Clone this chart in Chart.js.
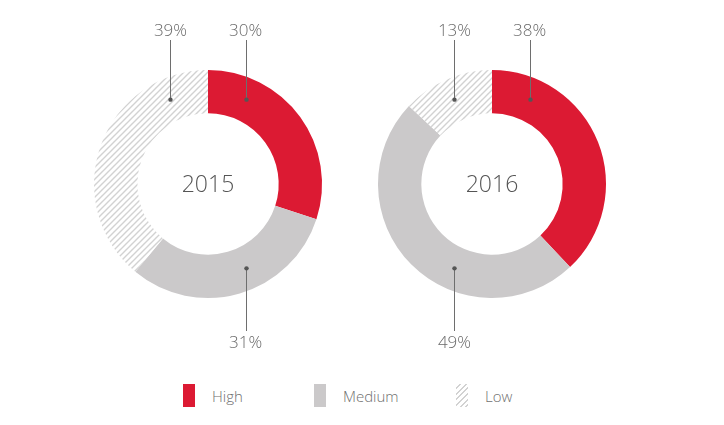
<!DOCTYPE html>
<html>
<head>
<meta charset="utf-8">
<script src="https://cdn.jsdelivr.net/npm/chart.js@4.4.1/dist/chart.umd.min.js"></script>
<style>
  body { margin:0; background:#fff; width:724px; height:425px; overflow:hidden; position:relative; font-family:"Open Sans", sans-serif; }
  .chartBox { position:absolute; top:0; width:300px; height:370px; }
  .legend-item { position:absolute; top:384px; height:23px; display:flex; align-items:center; }
  .swatch { width:12px; height:23px; margin-right:17px; }
  .legend-item span { font-size:15px; color:#707070; font-weight:300; }
</style>
</head>
<body>
<div class="chartBox" style="left:58px"><canvas id="c2015"></canvas></div>
<div class="chartBox" style="left:342px"><canvas id="c2016"></canvas></div>

<div class="legend-item" style="left:183px"><div class="swatch" style="background:#dc1a33"></div><span>High</span></div>
<div class="legend-item" style="left:314px"><div class="swatch" style="background:#cbc9ca"></div><span>Medium</span></div>
<div class="legend-item" style="left:456px"><div class="swatch" style="background:repeating-linear-gradient(135deg,#fff 0 2.5px,#d2d2d2 2.5px 4px)"></div><span>Low</span></div>

<script>
// ---- data ----
const categories = ['High', 'Medium', 'Low'];
const years = ['2015', '2016'];
const values2015 = [30, 31, 39];
const values2016 = [38, 49, 13];
// where each slice's callout sits: t/b = above/below, l/r = side
const callout2015 = ['tr', 'br', 'tl'];
const callout2016 = ['tr', 'bl', 'tl'];

// hatch pattern for "Low"
function makeHatch() {
  const c = document.createElement('canvas');
  c.width = 6; c.height = 6;
  const g = c.getContext('2d');
  g.fillStyle = '#fff';
  g.fillRect(0, 0, 6, 6);
  g.strokeStyle = '#d2d2d2';
  g.lineWidth = 1.4;
  g.beginPath();
  g.moveTo(0, 6); g.lineTo(6, 0);
  g.moveTo(-1, 1); g.lineTo(1, -1);
  g.moveTo(5, 7); g.lineTo(7, 5);
  g.stroke();
  return g.createPattern(c, 'repeat');
}
const hatch = makeHatch();
const colors = ['#dc1a33', '#cbc9ca', hatch];

// callouts + centre year
const calloutPlugin = {
  id: 'callouts',
  afterDraw(chart) {
    const ctx = chart.ctx;
    const meta = chart.getDatasetMeta(0);
    const opts = chart.options.plugins.callouts;
    const vals = chart.data.datasets[0].data;
    const a0 = meta.data[0];
    const cx = a0.x, cy = a0.y;
    const rOut = a0.outerRadius, rIn = a0.innerRadius;
    const rm = (rOut + rIn) / 2;
    const off = 24 * Math.PI / 180;

    ctx.save();
    // year in the middle
    ctx.fillStyle = '#555';
    ctx.font = '300 23px "Open Sans"';
    ctx.textAlign = 'center';
    ctx.textBaseline = 'middle';
    ctx.fillText(opts.year, cx, cy + 1);

    ctx.font = '300 17px "Open Sans"';
    opts.pos.forEach((p, i) => {
      const top = p[0] === 't';
      const right = p[1] === 'r';
      let ang = top ? -Math.PI / 2 : Math.PI / 2;
      ang += (top === right) ? off : -off;
      const dx = cx + rm * Math.cos(ang);
      const dy = cy + rm * Math.sin(ang);
      const lineEnd = top ? cy - rOut - 30 : cy + rOut + 33;
      const labelY = top ? cy - rOut - 39 : cy + rOut + 45;

      ctx.strokeStyle = '#6e6e6e';
      ctx.lineWidth = 1;
      ctx.beginPath();
      ctx.moveTo(Math.round(dx) + 0.5, dy);
      ctx.lineTo(Math.round(dx) + 0.5, lineEnd);
      ctx.stroke();

      ctx.fillStyle = '#555';
      ctx.beginPath();
      ctx.arc(Math.round(dx) + 0.5, dy, 2.2, 0, Math.PI * 2);
      ctx.fill();

      ctx.fillStyle = '#6a6a6a';
      ctx.fillText(vals[i] + '%', dx, labelY);
    });
    ctx.restore();
  }
};

function makeDonut(id, values, year, pos) {
  new Chart(document.getElementById(id), {
    type: 'doughnut',
    data: {
      labels: categories,
      datasets: [{ data: values, backgroundColor: colors, borderWidth: 0, hoverOffset: 0 }]
    },
    options: {
      responsive: true,
      maintainAspectRatio: false,
      animation: false,
      cutout: '62%',
      layout: { padding: { top: 70, bottom: 72, left: 0, right: 0 } },
      plugins: {
        legend: { display: false },
        tooltip: { enabled: false },
        callouts: { year: year, pos: pos }
      }
    },
    plugins: [calloutPlugin]
  });
}

makeDonut('c2015', values2015, years[0], callout2015);
makeDonut('c2016', values2016, years[1], callout2016);
</script>
</body>
</html>
